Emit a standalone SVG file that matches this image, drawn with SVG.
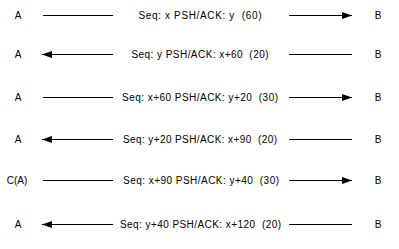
<svg xmlns="http://www.w3.org/2000/svg" width="399" height="249" viewBox="0 0 399 249">
<defs>
<style>
text{font-family:"Liberation Sans",Arial,sans-serif;font-size:10px;fill:#000;white-space:pre}
.lbl{text-anchor:middle}
line{stroke:#000;stroke-width:1}
</style>
<marker id="ah" markerUnits="userSpaceOnUse" markerWidth="11" markerHeight="8" refX="10" refY="4" orient="auto">
<path d="M0,0.5 L10,4 L0,7.5 Z" fill="#000"/>
</marker>
</defs>
<rect width="399" height="249" fill="#fff"/>
<g id="hosts-left">
<g id="A1"><text x="18" y="18.5" class="lbl">A</text></g>
<g id="A2"><text x="18" y="57.5" class="lbl">A</text></g>
<g id="A3"><text x="18" y="100.5" class="lbl">A</text></g>
<g id="A4"><text x="18" y="142.5" class="lbl">A</text></g>
<g id="CA"><text x="17" y="183.5" class="lbl">C(A)</text></g>
<g id="A6"><text x="18" y="227.5" class="lbl">A</text></g>
</g>
<g id="hosts-right">
<g id="B1"><text x="378" y="18.5" class="lbl">B</text></g>
<g id="B2"><text x="378" y="57.5" class="lbl">B</text></g>
<g id="B3"><text x="378" y="100.5" class="lbl">B</text></g>
<g id="B4"><text x="378" y="142.5" class="lbl">B</text></g>
<g id="B5"><text x="378" y="183.5" class="lbl">B</text></g>
<g id="B6"><text x="378" y="227.5" class="lbl">B</text></g>
</g>
<g id="connectors">
<line x1="43" y1="15.5" x2="113" y2="15.5"/>
<line x1="289" y1="15.5" x2="352" y2="15.5" marker-end="url(#ah)"/>
<text x="200" y="18.5" class="lbl" textLength="123" lengthAdjust="spacing">Seq: x PSH/ACK: y  (60)</text>

<line x1="113" y1="54.5" x2="42" y2="54.5" marker-end="url(#ah)"/>
<line x1="289" y1="54.5" x2="352" y2="54.5"/>
<text x="200" y="57.5" class="lbl" textLength="137" lengthAdjust="spacing">Seq: y PSH/ACK: x+60  (20)</text>

<line x1="43" y1="97.5" x2="113" y2="97.5"/>
<line x1="289" y1="97.5" x2="352" y2="97.5" marker-end="url(#ah)"/>
<text x="200" y="100.5" class="lbl" textLength="156" lengthAdjust="spacing">Seq: x+60 PSH/ACK: y+20  (30)</text>

<line x1="113" y1="139.5" x2="42" y2="139.5" marker-end="url(#ah)"/>
<line x1="289" y1="139.5" x2="352" y2="139.5"/>
<text x="200" y="142.5" class="lbl" textLength="154" lengthAdjust="spacing">Seq: y+20 PSH/ACK: x+90  (20)</text>

<line x1="43" y1="180.5" x2="113" y2="180.5"/>
<line x1="289" y1="180.5" x2="352" y2="180.5" marker-end="url(#ah)"/>
<text x="201" y="183.5" class="lbl" textLength="156" lengthAdjust="spacing">Seq: x+90 PSH/ACK: y+40  (30)</text>

<line x1="113" y1="224.5" x2="42" y2="224.5" marker-end="url(#ah)"/>
<line x1="289" y1="224.5" x2="352" y2="224.5"/>
<text x="200.5" y="227.5" class="lbl" textLength="161" lengthAdjust="spacing">Seq: y+40 PSH/ACK: x+120  (20)</text>
</g>
</svg>
